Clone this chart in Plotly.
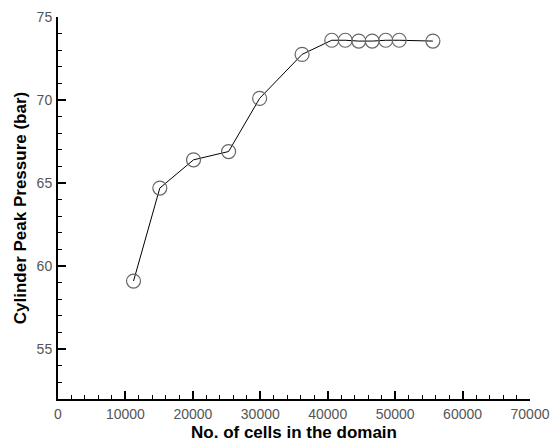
import plotly.graph_objects as go

cells = [11200, 15100, 20100, 25300, 29900, 36200, 40600, 42600, 44600, 46600, 48600, 50600, 55600]
pressure = [59.1, 64.7, 66.4, 66.9, 70.1, 72.75, 73.6, 73.6, 73.55, 73.55, 73.6, 73.6, 73.55]

x_ticks = [0, 10000, 20000, 30000, 40000, 50000, 60000, 70000]
y_ticks = [55, 60, 65, 70, 75]

fig = go.Figure()
fig.add_trace(go.Scatter(
    x=cells, y=pressure, mode="lines+markers",
    line=dict(color="black", width=1),
    marker=dict(symbol="circle-open", size=14, color="#666666", line=dict(width=1.2, color="#666666")),
    showlegend=False,
))

axis_font = dict(family="Liberation Sans, Arial, sans-serif", size=14, color="#555555")
title_font = dict(family="Liberation Sans, Arial, sans-serif", size=17, color="black")

fig.update_layout(
    width=552, height=442,
    margin=dict(l=58, r=22, t=17, b=43, autoexpand=False),
    paper_bgcolor="white", plot_bgcolor="white",
    xaxis=dict(
        range=[0, 70000], tickvals=x_ticks, ticktext=[str(v) for v in x_ticks],
        automargin=False,
        showgrid=False, zeroline=False, showline=True, linecolor="black", linewidth=2,
        ticks="inside", ticklen=8, tickwidth=1.5, tickcolor="black",
        minor=dict(dtick=2000, ticks="inside", ticklen=4, tickwidth=1, tickcolor="black", showgrid=False),
        tickfont=axis_font, ticklabelstandoff=1,
        title=dict(text="<b>No. of cells in the domain</b>", font=title_font, standoff=6),
    ),
    yaxis=dict(
        range=[52, 75], tickvals=y_ticks, ticktext=[str(v) for v in y_ticks],
        automargin=False,
        showgrid=False, zeroline=False, showline=True, linecolor="black", linewidth=2,
        ticks="inside", ticklen=8, tickwidth=1.5, tickcolor="black",
        minor=dict(dtick=1, ticks="inside", ticklen=4, tickwidth=1, tickcolor="black", showgrid=False),
        tickfont=axis_font, ticklabelstandoff=1,
        title=dict(text="<b>Cylinder Peak Pressure (bar)</b>", font=title_font, standoff=6),
    ),
)

fig.write_html(
    "out.html",
    config={"displayModeBar": False},
    post_script="document.body.style.margin='0';document.body.style.overflow='hidden';",
)
